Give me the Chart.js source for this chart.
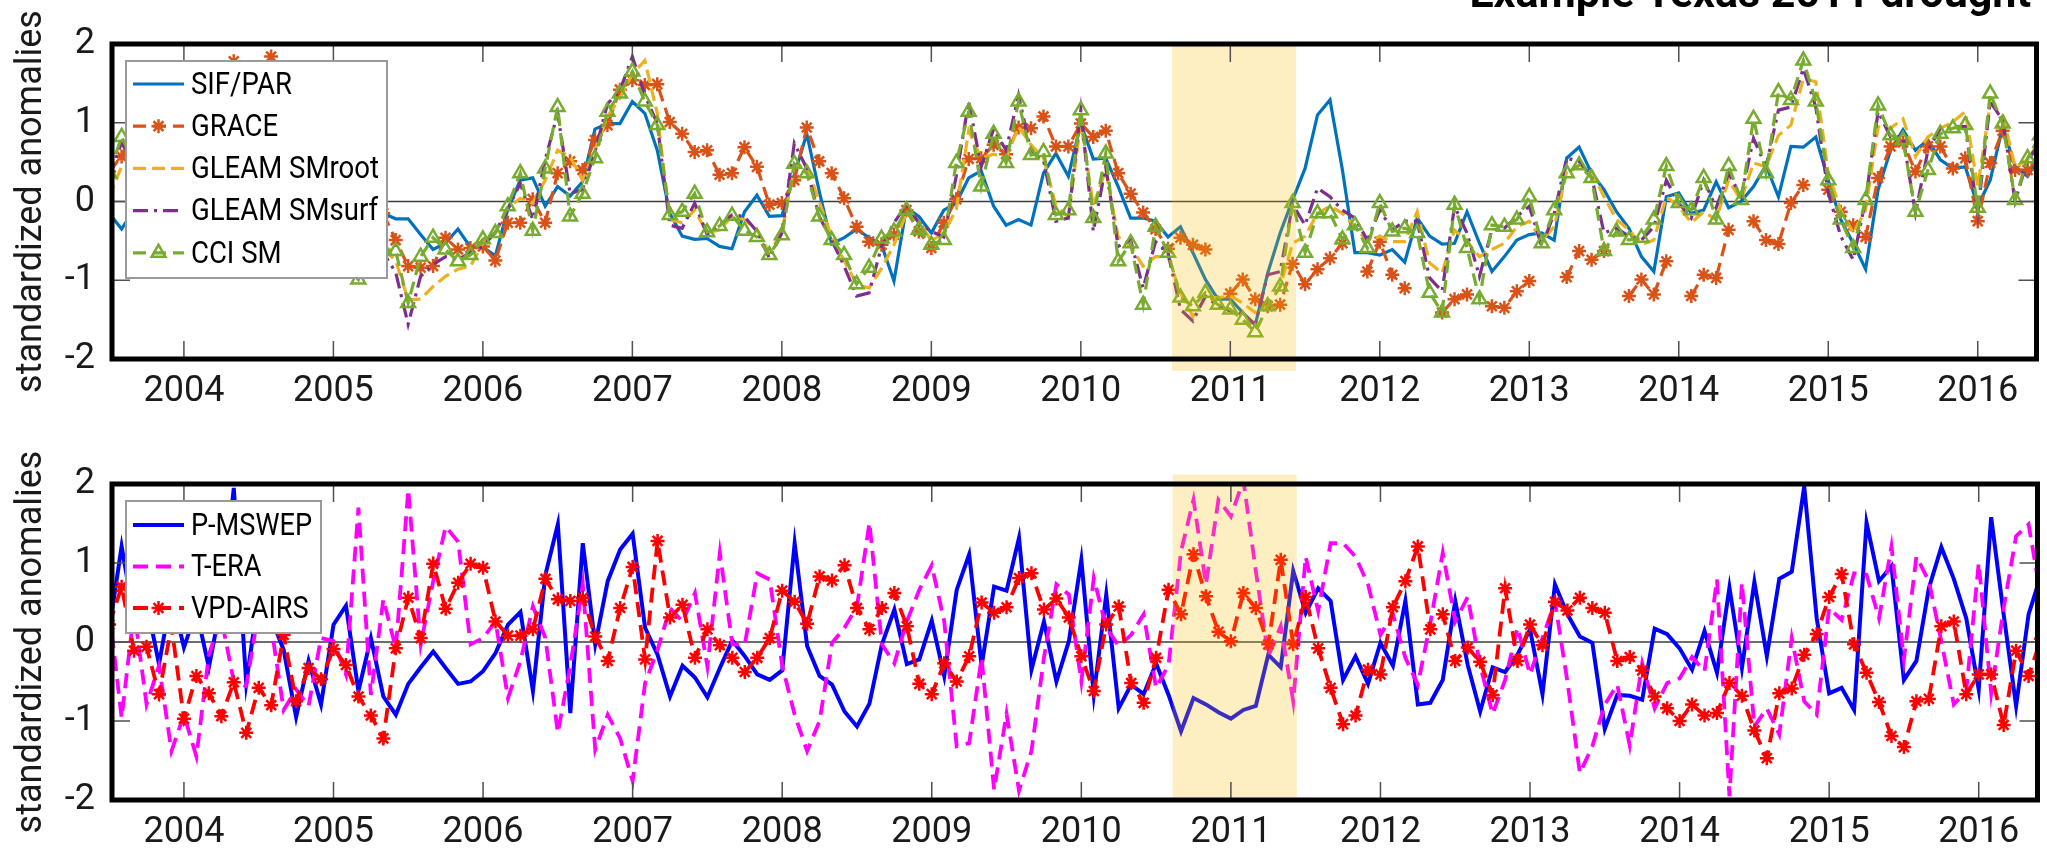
<!DOCTYPE html>
<html><head><meta charset="utf-8">
<script src="https://cdn.jsdelivr.net/npm/chart.js@4.4.1/dist/chart.umd.min.js"></script>
<style>
html,body{margin:0;padding:0;background:#fff;}
#wrap{position:relative;width:2047px;height:858px;overflow:hidden;background:#fff;}
canvas{position:absolute;left:0;}
#c1{top:0;} #c2{top:430px;}
</style></head><body>
<div id="wrap"><canvas id="c1" width="2047" height="430"></canvas><canvas id="c2" width="2047" height="428"></canvas></div>
<script>
// ---------- data ----------
const startYear = 2003.5;            // first monthly sample (July 2003), one value per month
const xMin = 2003.519, xMax = 2016.393;
const yearTicks = [2004,2005,2006,2007,2008,2009,2010,2011,2012,2013,2014,2015,2016];
const yTicks = [-2,-1,0,1,2];
const droughtPeriod = [2010.61, 2011.44];
const titleText = 'Example Texas 2011 drought';
const yTitle = 'standardized anomalies';

const sifPar = [-0.15,-0.35,-0.1,0.1,0.2,0.0,-0.2,-0.3,-0.1,0.1,
0.2,0.0,-0.2,-0.1,0.1,0.0,-0.3,-0.4,-0.2,-0.1,
-0.3,-0.2,-0.15,-0.22,-0.22,-0.42,-0.61,-0.53,-0.35,-0.58,
-0.58,-0.69,-0.1,0.27,0.30,-0.06,0.19,0.07,0.25,0.92,
0.99,0.99,1.27,1.12,0.65,-0.15,-0.44,-0.48,-0.47,-0.57,
-0.60,-0.13,0.08,-0.19,-0.18,0.34,0.86,0.13,-0.54,-0.46,
-0.35,-0.46,-0.55,-1.01,-0.08,-0.19,-0.40,-0.11,-0.02,0.30,
0.39,-0.06,-0.30,-0.23,-0.30,0.36,0.61,0.32,0.99,0.54,
0.55,0.19,-0.21,-0.21,-0.25,-0.45,-0.32,-0.65,-0.99,-1.24,
-1.24,-1.41,-1.57,-0.91,-0.40,0.02,0.42,1.10,1.29,0.40,
-0.65,-0.65,-0.68,-0.61,-0.77,-0.21,-0.44,-0.54,-0.53,-0.13,
-0.53,-0.89,-0.70,-0.49,-0.42,-0.40,-0.49,0.55,0.69,0.36,
0.15,-0.13,-0.34,-0.70,-0.89,0.06,0.11,-0.15,-0.11,0.25,
-0.08,0.0,0.19,0.46,0.06,0.70,0.69,0.82,0.27,-0.23,
-0.53,-0.86,0.15,0.65,0.91,0.65,0.78,0.53,0.42,0.44,
-0.06,0.27,0.95,0.44,0.32,0.59];

const grace = [0.38,0.57,0.9,1.1,1.25,1.35,1.45,1.5,1.6,1.65,
1.78,1.6,1.7,1.84,1.55,1.3,1.0,0.7,0.45,0.2,
0.0,-0.05,-0.15,-0.49,-0.82,-0.84,-0.82,-0.46,-0.61,-0.59,
-0.57,-0.75,-0.27,-0.27,0.03,-0.27,0.36,0.51,0.40,0.78,
0.97,1.42,1.54,1.48,1.49,1.01,0.86,0.63,0.65,0.34,
0.36,0.69,0.44,-0.04,-0.02,0.27,0.94,0.51,0.36,0.04,
-0.32,-0.51,-0.55,-0.42,-0.11,-0.38,-0.59,-0.27,0.03,0.54,
0.55,0.72,0.60,0.94,0.93,1.08,0.70,0.70,0.99,0.82,
0.90,0.36,0.10,-0.14,-0.35,-0.60,-0.46,-0.55,-0.61,null,
-1.17,-0.99,-1.24,-1.33,-1.31,-0.79,-1.05,-0.86,-0.72,-0.53,
null,-0.89,-0.51,-0.93,-1.10,null,null,-1.41,-1.24,-1.18,
null,-1.33,-1.35,-1.14,-1.01,null,null,-0.96,-0.63,-0.74,
-0.63,null,-1.20,-0.99,-1.18,-0.76,null,-1.20,-0.93,-0.97,
-0.36,null,-0.25,-0.49,-0.54,-0.02,0.21,null,0.15,-0.13,
-0.30,-0.45,0.3,0.7,0.75,0.38,0.7,0.7,0.42,0.55,
-0.25,0.49,0.9,0.4,0.4,0.6];

const gleamRoot = [0.05,0.45,0.5,0.35,0.2,0.05,0.15,0.3,0.2,0.0,
-0.2,-0.35,-0.25,-0.1,-0.2,-0.4,-0.55,-0.5,-0.6,-0.7,
-0.85,-0.65,-0.6,-0.75,-1.25,-1.24,-1.08,-0.95,-0.86,-0.82,
-0.53,-0.40,-0.08,0.04,-0.02,0.27,0.65,0.57,0.27,0.65,
1.08,1.31,1.62,1.79,1.12,-0.23,-0.27,-0.11,-0.40,-0.36,
-0.19,-0.23,-0.36,-0.65,-0.40,0.45,0.45,0.0,-0.45,-0.75,
-1.05,-1.10,-0.85,-0.55,-0.15,-0.25,-0.5,-0.4,-0.1,0.9,
0.55,0.6,0.55,0.95,0.72,0.55,-0.05,-0.2,1.0,-0.05,
0.4,-0.45,-0.57,-0.82,-0.70,-0.70,-1.16,-1.46,-1.22,-1.22,
-1.20,-1.29,-1.41,-1.33,-1.08,-0.53,-0.44,-0.15,-0.06,-0.15,
-0.32,-0.51,-0.44,-0.51,-0.51,-0.13,-0.78,-0.91,-0.36,-0.51,
-0.70,-0.61,-0.53,-0.32,-0.25,-0.49,-0.32,0.38,0.46,0.38,
0.06,-0.23,-0.36,-0.55,-0.49,0.06,-0.06,-0.27,-0.13,-0.23,
0.27,0.02,0.49,0.44,0.84,0.97,1.56,1.52,0.36,-0.11,
-0.40,-0.11,0.95,0.93,1.05,0.57,0.82,0.93,1.01,1.14,
0.19,1.24,1.10,0.44,0.53,0.78];

const gleamSurf = [0.30,0.75,0.45,0.15,-0.05,-0.2,0.2,0.4,0.15,-0.1,
-0.3,-0.45,-0.2,0.05,-0.2,-0.45,-0.65,-0.5,-0.65,-0.8,
-0.9,-0.6,-0.65,-0.9,-1.56,-0.95,-0.80,-0.70,-0.74,-0.65,
-0.57,-0.39,-0.10,0.23,-0.23,0.53,1.12,0.10,0.15,0.63,
1.24,1.41,1.84,1.35,0.99,-0.30,-0.34,-0.02,-0.42,-0.30,
-0.17,-0.19,-0.38,-0.72,-0.40,0.74,0.42,-0.19,-0.49,-0.82,
-1.20,-1.16,-0.57,-0.27,-0.04,-0.27,-0.38,-0.45,0.32,1.27,
0.44,0.92,0.65,1.35,0.63,0.53,-0.25,-0.21,1.16,-0.38,
0.44,-0.57,-0.49,-1.10,-0.51,-0.65,-1.37,-1.52,-1.20,-1.33,
-1.39,-1.43,-1.56,-0.93,-0.89,-0.04,-0.30,0.17,0.06,-0.11,
-0.21,-0.49,-0.11,-0.36,-0.25,-0.25,-0.97,-1.14,-0.06,-0.40,
-0.95,-0.36,-0.34,-0.19,-0.06,-0.57,-0.15,0.55,0.51,0.32,
-0.40,-0.34,-0.44,-0.49,-0.32,0.27,-0.02,-0.21,0.27,-0.08,
0.36,0.06,0.80,0.44,1.16,1.20,1.69,1.20,0.11,-0.44,
-0.74,0.02,1.14,0.82,0.82,-0.15,0.65,0.93,0.95,0.95,
-0.15,1.27,1.03,0.0,0.53,0.74];

const cciSm = [0.36,0.82,0.5,0.2,0.0,-0.2,0.3,0.5,0.2,-0.1,
-0.3,-0.5,-0.2,0.1,-0.2,-0.5,-0.7,-0.5,-0.7,-0.8,
-0.99,-0.5,-0.6,-0.63,-1.29,-0.70,-0.46,-0.61,-0.76,-0.68,
-0.48,-0.40,-0.06,0.36,-0.37,0.42,1.20,-0.19,0.10,0.55,
1.14,1.37,1.65,1.27,0.97,-0.17,-0.13,0.10,-0.39,-0.31,
-0.18,-0.37,-0.45,-0.68,-0.43,0.48,0.36,-0.19,-0.49,-0.68,
-1.05,-0.84,-0.47,-0.38,-0.11,-0.36,-0.55,-0.49,0.49,1.14,
0.19,0.86,0.49,1.27,0.59,0.63,-0.17,-0.11,1.16,-0.21,
0.61,-0.76,-0.53,-1.31,-0.32,-0.65,-1.22,-1.33,-1.16,-1.31,
-1.37,-1.50,-1.66,-1.33,-1.08,-0.02,-0.65,-0.15,-0.15,-0.48,
-0.30,-0.59,-0.02,-0.38,-0.34,-0.40,-1.16,-1.41,-0.04,-0.59,
-1.24,-0.30,-0.32,-0.23,0.06,-0.53,-0.11,0.36,0.46,0.30,
-0.63,-0.38,-0.49,-0.46,-0.23,0.45,-0.02,-0.11,0.30,-0.23,
0.45,0.02,1.05,0.36,1.39,1.29,1.79,1.27,0.27,-0.23,
-0.59,0.02,1.22,0.84,0.78,-0.13,0.40,0.86,0.93,0.97,
-0.08,1.37,0.99,0.02,0.55,0.84];

const pMswep = [0.15,1.21,0.3,0.5,-0.28,0.6,-0.07,0.4,-0.32,0.5,
1.95,-0.52,0.6,0.3,-0.1,-0.95,-0.24,-0.79,0.22,0.46,
-0.62,0.05,-0.69,-0.92,-0.53,-0.32,-0.12,-0.33,-0.53,-0.50,
-0.37,-0.14,0.22,0.38,-0.62,0.85,1.49,-0.90,1.25,-0.03,
0.77,1.17,1.37,0.18,-0.16,-0.69,-0.30,-0.45,-0.70,-0.33,
0.02,-0.18,-0.41,-0.48,-0.36,1.25,-0.05,-0.43,-0.54,-0.88,
-1.07,-0.78,-0.03,0.41,-0.28,-0.22,0.27,-0.43,0.66,1.11,
-0.30,0.70,0.65,1.32,-0.35,0.26,-0.50,0.01,1.04,-0.67,
0.60,-0.84,-0.54,-0.66,-0.27,-0.67,-1.13,-0.71,-0.79,-0.89,
-0.97,-0.86,-0.81,-0.16,-0.32,0.90,0.37,0.68,0.52,-0.48,
-0.18,-0.53,-0.01,-0.30,0.52,-0.79,-0.77,-0.48,0.52,-0.29,
-0.88,-0.32,-0.38,-0.16,0.16,-0.66,0.73,0.35,0.07,-0.01,
-1.10,-0.67,-0.68,-0.73,0.17,0.10,-0.08,-0.35,0.14,-0.39,
0.69,-0.33,0.76,-0.18,0.80,0.89,1.97,0.3,-0.65,-0.58,
-0.86,1.51,0.77,0.96,-0.48,-0.24,0.68,1.20,0.80,0.30,
-0.60,1.58,0.35,-0.81,0.35,0.85];

const tEra = [0.4,-0.96,0.4,-0.79,-0.3,-1.38,-0.92,-1.45,-0.16,0.3,
-0.5,-0.56,0.4,0.2,-0.86,-0.6,-0.81,0.05,0.01,-0.41,
1.70,-0.67,0.54,-0.08,1.93,-0.03,0.77,1.46,1.27,-0.03,
0.05,0.26,-0.71,-0.24,0.45,0.05,-1.15,-0.3,0.73,-1.36,
-0.92,-1.22,-1.76,-0.52,-0.10,0.43,0.26,0.62,-0.31,1.13,
-0.03,-0.03,0.87,0.79,-0.3,-0.92,-1.38,-1.00,-0.01,0.18,
0.45,1.51,-0.03,-0.27,0.26,0.66,0.97,0.26,-1.32,-1.28,
-0.2,-1.87,-0.91,-1.88,-1.38,-0.2,0.73,0.60,-0.50,0.81,
0.18,-0.05,0.09,0.35,-0.58,-0.29,1.15,1.80,0.73,1.80,
1.59,2.05,0.9,-0.18,0.20,-0.75,1.08,0.39,1.25,1.25,
1.08,0.73,0.09,0.35,-0.2,-0.54,0.24,1.13,0.26,0.57,
-0.3,-0.91,-0.48,0.18,-0.41,0.05,0.51,-0.5,-1.66,-1.32,
-0.79,-0.54,-1.31,-0.27,-0.84,-0.52,-0.46,-0.19,-0.37,0.79,
-1.95,0.75,-1.07,-0.84,-1.17,0.05,-0.75,-0.92,0.43,0.28,
0.87,0.85,0.30,1.21,-0.22,1.08,0.77,0.01,-0.79,-0.62,
1.00,-0.65,0.43,1.34,1.49,0.56];

const vpdAirs = [0.22,0.70,-0.11,-0.06,-0.66,0.2,-0.97,-0.43,-0.65,-0.94,
-0.51,-1.15,-0.58,-0.80,0.09,-0.75,-0.33,-0.47,-0.09,-0.29,
-0.69,-0.93,-1.22,-0.08,0.56,0.05,0.99,0.42,0.75,0.99,
0.94,0.26,0.08,0.08,0.16,0.80,0.54,0.52,0.56,0.07,
-0.24,0.43,0.95,-0.22,1.28,0.31,0.47,-0.20,0.16,-0.04,
-0.20,-0.38,-0.20,0.05,0.65,0.51,0.23,0.83,0.78,0.97,
0.43,0.16,0.43,0.62,0.20,-0.53,-0.66,-0.27,-0.50,-0.18,
0.50,0.37,0.44,0.81,0.87,0.41,0.55,0.31,-0.18,-0.62,
0.22,0.45,-0.52,-0.77,-0.20,0.66,0.35,1.11,0.58,0.13,
0.01,0.62,0.43,-0.03,1.04,-0.03,0.57,-0.08,-0.58,-1.04,
-0.93,-0.35,-0.41,0.44,0.77,1.21,0.16,0.35,-0.24,-0.07,
-0.25,-0.67,0.68,-0.24,0.22,-0.04,0.51,0.40,0.56,0.43,
0.37,-0.24,-0.19,-0.36,-0.69,-0.84,-1.00,-0.79,-0.93,-0.90,
-0.52,-0.68,-1.12,-1.47,-0.65,-0.59,-0.16,0.10,0.57,0.86,
-0.03,-0.39,-0.76,-1.19,-1.33,-0.75,-0.72,0.20,0.26,-0.66,
-0.41,-0.41,-1.05,-0.11,-0.43,0.04];

// ---------- helpers ----------
const FONT = 'Roboto, "DejaVu Sans", sans-serif';
const monthly = vals => vals.map((v, i) => ({x: startYear + i / 12, y: v}));

function drawMarker(ctx, style, r, cx, cy) {
  ctx.beginPath();
  if (style === 'star') {
    for (let k = 0; k < 4; k++) {
      const a = k * Math.PI / 4;
      ctx.moveTo(cx - r * Math.cos(a), cy - r * Math.sin(a));
      ctx.lineTo(cx + r * Math.cos(a), cy + r * Math.sin(a));
    }
    ctx.stroke();
  } else if (style === 'triangle') {
    for (let k = 0; k < 3; k++) {
      const a = -Math.PI / 2 + k * 2 * Math.PI / 3;
      const px = cx + r * Math.cos(a), py = cy + r * Math.sin(a);
      if (k === 0) ctx.moveTo(px, py); else ctx.lineTo(px, py);
    }
    ctx.closePath();
    ctx.stroke();
  }
}

const framePlugin = {
  id: 'frame',
  beforeDatasetsDraw(chart, args, o) {
    const {ctx, chartArea: a, scales: {y}} = chart;
    const y0 = y.getPixelForValue(0);
    ctx.save();
    ctx.strokeStyle = '#3c3c3c'; ctx.lineWidth = 1.3;
    ctx.beginPath(); ctx.moveTo(a.left, y0); ctx.lineTo(a.right, y0); ctx.stroke();
    ctx.restore();
  },
  afterDatasetsDraw(chart, args, o) {
    const {ctx, chartArea: a, scales: {x, y}} = chart;
    ctx.save();
    // drought period shading (semi-transparent, over the data)
    const bx1 = x.getPixelForValue(droughtPeriod[0]), bx2 = x.getPixelForValue(droughtPeriod[1]);
    const by1 = y.getPixelForValue(o.bandY[1]), by2 = y.getPixelForValue(o.bandY[0]);
    ctx.fillStyle = 'rgba(247,190,0,0.24)';
    ctx.fillRect(bx1, by1, bx2 - bx1, by2 - by1);
    // inward ticks on all sides
    ctx.strokeStyle = '#505050'; ctx.lineWidth = 1.5;
    ctx.beginPath();
    for (const t of yearTicks) {
      const px = x.getPixelForValue(t);
      ctx.moveTo(px, a.bottom); ctx.lineTo(px, a.bottom - o.tickLen);
      ctx.moveTo(px, a.top); ctx.lineTo(px, a.top + o.tickLen);
    }
    for (const t of yTicks) {
      const py = y.getPixelForValue(t);
      ctx.moveTo(a.left, py); ctx.lineTo(a.left + o.tickLen, py);
      ctx.moveTo(a.right, py); ctx.lineTo(a.right - o.tickLen, py);
    }
    ctx.stroke();
    // axes box
    ctx.strokeStyle = '#000'; ctx.lineWidth = 5;
    ctx.strokeRect(a.left, a.top, a.right - a.left, a.bottom - a.top);
    // legend
    const L = o.legend;
    ctx.fillStyle = '#fff'; ctx.fillRect(L.x, L.y, L.w, L.h);
    ctx.strokeStyle = '#9a9a9a'; ctx.lineWidth = 2; ctx.strokeRect(L.x, L.y, L.w, L.h);
    ctx.font = L.fontSize + 'px ' + FONT;
    const sx = Math.min(1, L.refWidth / ctx.measureText(L.refText).width);
    chart.data.datasets.forEach((ds, i) => {
      const cy = L.row0 + i * L.rowGap;
      ctx.save();
      ctx.strokeStyle = ds.borderColor; ctx.lineWidth = ds.borderWidth;
      ctx.setLineDash(ds.borderDash || []);
      ctx.beginPath(); ctx.moveTo(L.s0, cy); ctx.lineTo(L.s1, cy); ctx.stroke();
      ctx.setLineDash([]);
      if (ds.pointRadius > 0) {
        ctx.lineWidth = ds.pointBorderWidth;
        ctx.strokeStyle = ds.pointBorderColor;
        drawMarker(ctx, ds.pointStyle, ds.pointRadius, (L.s0 + L.s1) / 2, cy);
      }
      ctx.translate(L.tx, cy); ctx.scale(sx, 1);
      ctx.fillStyle = '#000'; ctx.textBaseline = 'middle'; ctx.textAlign = 'left';
      ctx.font = L.fontSize + 'px ' + FONT;
      ctx.fillText(ds.label, 0, 2);
      ctx.restore();
    });
    ctx.restore();
  },
  afterDraw(chart, args, o) {
    if (!o.title) return;
    const ctx = chart.ctx;
    ctx.save();
    ctx.font = 'bold 100px ' + FONT;
    const w100 = ctx.measureText(o.title.text).width;
    const size = 100 * o.title.width / w100;
    ctx.font = 'bold ' + size.toFixed(1) + 'px ' + FONT;
    ctx.fillStyle = '#000'; ctx.textAlign = 'right'; ctx.textBaseline = 'alphabetic';
    ctx.fillText(o.title.text, o.title.right, o.title.baseline);
    ctx.restore();
  }
};

function makeChart(canvasId, datasets, cfg) {
  const h = cfg.height;
  return new Chart(document.getElementById(canvasId), {
    type: 'line',
    data: {datasets},
    plugins: [framePlugin],
    options: {
      responsive: false, animation: false, devicePixelRatio: 1,
      layout: {padding: {left: 0, top: cfg.top, right: 2047 - 2039.5, bottom: 0}},
      elements: {line: {tension: 0, fill: false}, point: {hoverRadius: 0}},
      events: [],
      plugins: {
        legend: {display: false}, tooltip: {enabled: false},
        frame: {tickLen: 18, bandY: cfg.bandY, legend: cfg.legend, title: cfg.title}
      },
      scales: {
        x: {
          type: 'linear', min: xMin, max: xMax,
          afterBuildTicks: s => { s.ticks = yearTicks.map(v => ({value: v})); },
          afterFit: s => { s.height = h - cfg.bottom; },
          grid: {display: false, drawTicks: false}, border: {display: false},
          ticks: {font: {family: FONT, size: 36}, color: '#1a1a1a', padding: 11, maxRotation: 0, autoSkip: false,
                  callback: v => String(v)}
        },
        y: {
          type: 'linear', min: -2, max: 2,
          afterBuildTicks: s => { s.ticks = yTicks.map(v => ({value: v})); },
          afterFit: s => { s.width = 112; },
          grid: {display: false, drawTicks: false}, border: {display: false},
          ticks: {font: {family: FONT, size: 36}, color: '#1a1a1a', padding: 17, callback: v => String(v)},
          title: {display: true, text: yTitle, font: {family: FONT, size: 36}, color: '#1a1a1a', padding: {top: 10, bottom: 0}}
        }
      }
    }
  });
}

const DASH_TOP = [13, 7];
const DASH_BOT = [15, 8];
makeChart('c1', [
  {label: 'SIF/PAR', data: monthly(sifPar), borderColor: '#0072BD', borderWidth: 3.2, pointRadius: 0, order: 4},
  {label: 'GRACE', data: monthly(grace), borderColor: '#D95319', borderWidth: 3.2, borderDash: DASH_TOP,
   pointStyle: 'star', pointRadius: 7, pointBorderWidth: 2.5, pointBorderColor: '#D95319', pointBackgroundColor: '#D95319', spanGaps: false, order: 3},
  {label: 'GLEAM SMroot', data: monthly(gleamRoot), borderColor: '#EDB120', borderWidth: 3.2, borderDash: [13, 6], pointRadius: 0, order: 2},
  {label: 'GLEAM SMsurf', data: monthly(gleamSurf), borderColor: '#7E2F8E', borderWidth: 3.2, borderDash: [15, 6, 3, 6], pointRadius: 0, order: 1},
  {label: 'CCI SM', data: monthly(cciSm), borderColor: '#77AC30', borderWidth: 3.2, borderDash: DASH_TOP,
   pointStyle: 'triangle', pointRadius: 8, pointBorderWidth: 2.5, pointBorderColor: '#77AC30', pointBackgroundColor: 'rgba(0,0,0,0)', order: 0}
], {height: 430, top: 44, bottom: 359, bandY: [-2.15, 2],
    legend: {x: 126, y: 61, w: 261, h: 217, row0: 84, rowGap: 42.2, s0: 133, s1: 184, tx: 191, fontSize: 31, refText: 'GLEAM SMroot', refWidth: 188},
    title: {text: titleText, width: 562, right: 2031, baseline: 7}});

makeChart('c2', [
  {label: 'P-MSWEP', data: monthly(pMswep), borderColor: '#0000FF', borderWidth: 4, pointRadius: 0, order: 2},
  {label: 'T-ERA', data: monthly(tEra), borderColor: '#FF00FF', borderWidth: 3.8, borderDash: DASH_BOT, pointRadius: 0, order: 1},
  {label: 'VPD-AIRS', data: monthly(vpdAirs), borderColor: '#FF0000', borderWidth: 3.8, borderDash: DASH_BOT,
   pointStyle: 'star', pointRadius: 7, pointBorderWidth: 2.5, pointBorderColor: '#FF0000', pointBackgroundColor: '#FF0000', order: 0}
], {height: 428, top: 54, bottom: 370, bandY: [-2, 2.12],
    legend: {x: 126, y: 71, w: 195, h: 132, row0: 95, rowGap: 41.5, s0: 133, s1: 184, tx: 191, fontSize: 31, refText: 'P-MSWEP', refWidth: 121},
    title: null});
</script>
</body></html>
